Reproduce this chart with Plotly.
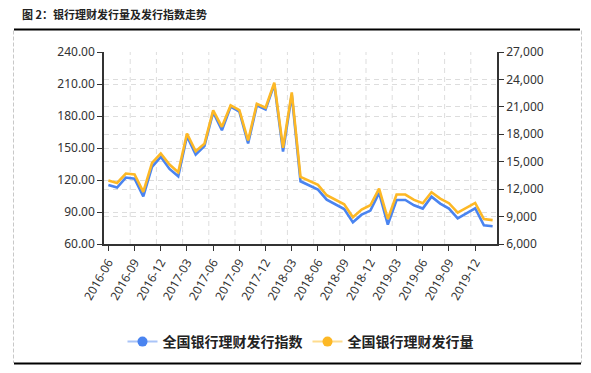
import plotly.graph_objects as go

months = [
    "2016-06", "2016-07", "2016-08", "2016-09", "2016-10", "2016-11", "2016-12",
    "2017-01", "2017-02", "2017-03", "2017-04", "2017-05", "2017-06", "2017-07",
    "2017-08", "2017-09", "2017-10", "2017-11", "2017-12", "2018-01", "2018-02",
    "2018-03", "2018-04", "2018-05", "2018-06", "2018-07", "2018-08", "2018-09",
    "2018-10", "2018-11", "2018-12", "2019-01", "2019-02", "2019-03", "2019-04",
    "2019-05", "2019-06", "2019-07", "2019-08", "2019-09", "2019-10", "2019-11",
    "2019-12", "2020-01", "2020-02",
]

issue_index = [
    115.4, 112.9, 122.3, 121.3, 104.7, 132.3, 141.7,
    130.4, 123.5, 161.1, 143.9, 151.7, 183.6, 166.7,
    188.7, 184.0, 154.2, 189.9, 186.1, 209.6, 146.7,
    199.9, 118.8, 115.1, 111.0, 101.6, 97.5, 92.8,
    80.3, 87.5, 91.3, 107.9, 78.1, 101.3, 101.3,
    96.3, 93.2, 104.4, 97.9, 93.2, 84.1, 88.5,
    93.5, 77.6, 76.6,
]

issue_volume = [
    12940, 12680, 13710, 13600, 11700, 14880, 15900,
    14690, 13850, 18090, 16150, 16960, 20610, 18820,
    21160, 20650, 17320, 21340, 20900, 23640, 16520,
    22580, 13340, 12940, 12470, 11330, 10860, 10350,
    8920, 9760, 10240, 12060, 8740, 11410, 11410,
    10820, 10460, 11660, 10970, 10460, 9430, 9950,
    10490, 8720, 8610,
]

tick_labels = months[::3][:15]

name_index = "全国银行理财发行指数"
name_volume = "全国银行理财发行量"
title_text = "图 2：银行理财发行量及发行指数走势"

BLUE = "#4A84F0"
YELLOW = "#FDB825"
BLUE_LIGHT = "#A9C4F8"
YELLOW_LIGHT = "#FEDC8E"

W, H = 591, 373
L, R, T, B = 104, 497, 52, 244  # plot area in pixels


def px_x(p):
    return (p - L) / (R - L)


def px_y(p):
    return (B - p) / (B - T)


fig = go.Figure()
fig.add_trace(go.Scatter(x=months, y=issue_index, mode="lines", name=name_index,
                         line=dict(color=BLUE, width=2.6), showlegend=False, yaxis="y"))
fig.add_trace(go.Scatter(x=months, y=issue_volume, mode="lines", name=name_volume,
                         line=dict(color=YELLOW, width=2.6), showlegend=False, yaxis="y2"))
# legend entries
fig.add_trace(go.Scatter(x=[None], y=[None], mode="lines+markers", name=name_index,
                         line=dict(color=BLUE_LIGHT, width=2),
                         marker=dict(color=BLUE, size=10), yaxis="y"))
fig.add_trace(go.Scatter(x=[None], y=[None], mode="lines+markers", name=name_volume,
                         line=dict(color=YELLOW_LIGHT, width=2),
                         marker=dict(color=YELLOW, size=10), yaxis="y2"))

tick_font = dict(family="Noto Sans, Liberation Sans, sans-serif", size=12, color="#333333")

fig.update_layout(
    width=W, height=H,
    margin=dict(l=L, r=W - R, t=T, b=H - B, pad=0),
    paper_bgcolor="white", plot_bgcolor="white",
    showlegend=True,
    legend=dict(orientation="h", x=0.5, xanchor="center", y=px_y(342), yanchor="middle",
                font=dict(family="Noto Sans CJK SC", size=14, color="#222222", weight="bold"),
                itemwidth=30, bgcolor="rgba(0,0,0,0)"),
    xaxis=dict(type="category", range=[-0.5, len(months) - 0.5],
               tickmode="array", tickvals=tick_labels, ticktext=tick_labels,
               tickangle=-60, tickfont=tick_font,
               ticks="outside", ticklen=5, tickcolor="#333333",
               showline=True, linecolor="#333333", linewidth=1.5,
               showgrid=False, zeroline=False, fixedrange=True),
    yaxis=dict(range=[60, 240], dtick=30, tick0=60, tickformat=".2f",
               tickfont=tick_font, ticks="outside", ticklen=5, tickcolor="#333333",
               showline=True, linecolor="#333333", linewidth=1.5,
               showgrid=True, gridcolor="#DDDDDD", griddash="5px,4px", gridwidth=1,
               zeroline=False),
    yaxis2=dict(range=[6000, 27000], dtick=3000, tick0=6000, tickformat=",",
                overlaying="y", side="right",
                tickfont=tick_font, ticks="outside", ticklen=5, tickcolor="#333333",
                showline=True, linecolor="#333333", linewidth=1.5,
                showgrid=True, gridcolor="#DDDDDD", griddash="5px,4px", gridwidth=1,
                zeroline=False),
)

shapes = []
# vertical grid lines at category boundaries between label groups
for i in range(3, len(months), 3):
    shapes.append(dict(type="line", xref="x", yref="paper", x0=i - 0.5, x1=i - 0.5,
                       y0=0, y1=1, layer="below",
                       line=dict(color="#DDDDDD", width=1, dash="5px,4px")))
# frame decorations
shapes.append(dict(type="line", xref="paper", yref="paper", x0=px_x(14), x1=px_x(580),
                   y0=px_y(29.5), y1=px_y(29.5), line=dict(color="#000000", width=2)))
shapes.append(dict(type="line", xref="paper", yref="paper", x0=px_x(14), x1=px_x(581),
                   y0=px_y(363.5), y1=px_y(363.5), line=dict(color="#000000", width=2)))
shapes.append(dict(type="line", xref="paper", yref="paper", x0=px_x(13.5), x1=px_x(13.5),
                   y0=px_y(30.5), y1=px_y(363), line=dict(color="#C8C8C8", width=1, dash="4px,2px")))
shapes.append(dict(type="line", xref="paper", yref="paper", x0=px_x(581.5), x1=px_x(581.5),
                   y0=px_y(30.5), y1=px_y(363), line=dict(color="#C8C8C8", width=1, dash="4px,2px")))
fig.update_layout(shapes=shapes)

fig.add_annotation(text=title_text, xref="paper", yref="paper", x=px_x(20), y=px_y(13.5),
                   xanchor="left", yanchor="middle", showarrow=False,
                   font=dict(family="Noto Sans CJK SC", size=11, color="#222222", weight="bold"))

fig.write_html("out.html",
               config={"displayModeBar": False, "staticPlot": False},
               post_script="document.body.style.margin='0';document.body.style.overflow='hidden';")
